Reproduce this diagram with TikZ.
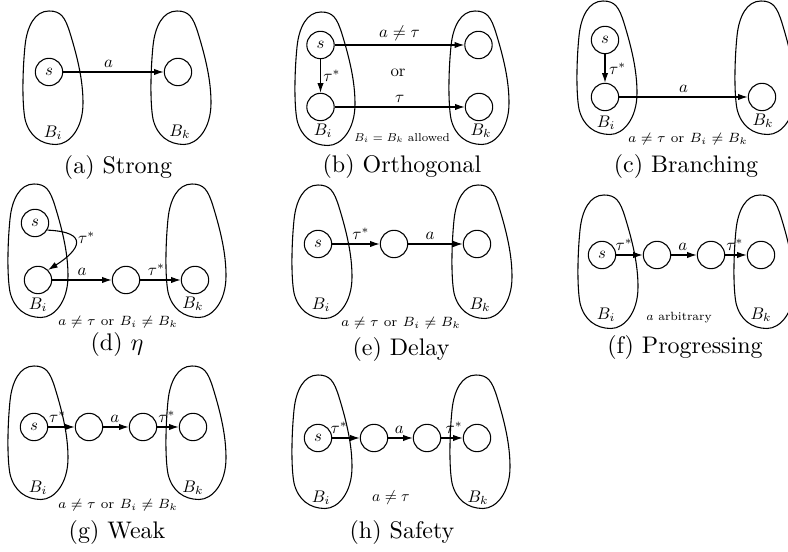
\documentclass[tikz,border=0pt]{standalone}
\usetikzlibrary{arrows.meta}
\newcommand{\smlbl}[1]{\scalebox{0.7}{#1}}
\newcommand{\notescale}[2]{\scalebox{#1}{\scriptsize #2}}
\begin{document}
\begin{tikzpicture}[x=0.416667pt, y=-0.416667pt, line width=0.45pt,
  st/.style={circle, draw, minimum size=11.4pt, inner sep=0pt},
  arr/.style={-{Latex[length=4pt,width=2.6pt]}},
  lbl/.style={inner sep=1.5pt},
  captxt/.style={inner sep=0pt, font=\normalsize},
  notetxt/.style={inner sep=0pt},
  bl/.style={inner sep=0pt},
  blob/.pic={\draw (26,0) .. controls (38,0) and (42,6) .. (47,22)
     .. controls (55,48) and (60,70) .. (60,92)
     .. controls (60,118) and (46,133.5) .. (33,133.5)
     .. controls (18,133.5) and (6,125) .. (2,108)
     .. controls (-1,92) and (-0.5,60) .. (2,35)
     .. controls (4,15) and (12,0) .. (26,0) -- cycle;}]
\useasboundingbox (0,0) rectangle (788,552);

% (a) Strong
\pic at (23,11) {blob}; \pic at (151,11) {blob};
\node[st] (a1) at (49,72) {\smlbl{$s$}};
\node[st] (a2) at (178,72) {};
\draw[arr] (a1) -- (a2) node[lbl, above, pos=0.45] {\smlbl{$a$}};
\node[bl] (aBi) at (53,133) {\smlbl{$B_i$}};
\node[bl] (aBk) at (180,132) {\smlbl{$B_k$}};
\node[captxt] (acap) at (118,168) {(a) Strong};

% (b) Orthogonal
\pic at (295,12) {blob}; \pic at (449,11) {blob};
\node[st] (b1) at (320.5,45) {\smlbl{$s$}};
\node[st] (b2) at (320.5,107) {};
\node[st] (b3) at (478.5,45) {};
\node[st] (b4) at (479,107) {};
\draw[arr] (b1) -- (b3) node[lbl, above, midway] {\smlbl{$a\neq\tau$}};
\draw[arr] (b1) -- (b2) node[right, inner sep=1pt, midway] {\smlbl{$\tau^*$}};
\draw[arr] (b2) -- (b4) node[lbl, above, midway] {\smlbl{$\tau$}};
\node[bl] (bor) at (398,73) {\smlbl{or}};
\node[bl] (bBi) at (323,131) {\smlbl{$B_i$}};
\node[bl] (bBk) at (481,131) {\smlbl{$B_k$}};
\node[notetxt] (bnote) at (402,138) {\notescale{0.68}{$B_i=B_k$ allowed}};
\node[captxt] (bcap) at (402,167) {(b) Orthogonal};

% (c) Branching
\pic at (577,1) {blob}; \pic at (735,1) {blob};
\node[st] (c1) at (605,40) {\smlbl{$s$}};
\node[st] (c2) at (605,97) {};
\node[st] (c3) at (762,97) {};
\draw[arr] (c1) -- (c2) node[lbl, right, midway] {\smlbl{$\tau^*$}};
\draw[arr] (c2) -- (c3) node[lbl, above, midway] {\smlbl{$a$}};
\node[bl] (cBi) at (606,123) {\smlbl{$B_i$}};
\node[bl] (cBk) at (763,121) {\smlbl{$B_k$}};
\node[notetxt] (cnote) at (688,139) {\notescale{0.8}{$a\neq\tau$ or $B_i\neq B_k$}};
\node[captxt] (ccap) at (686,167) {(c) Branching};

% (d) eta
\pic at (8,184) {blob}; \pic at (166,184) {blob};
\node[st] (d1) at (35,223) {\smlbl{$s$}};
\node[st] (d2) at (38,280) {};
\node[st] (d3) at (126,280) {};
\node[st] (d4) at (195,280) {};
\draw[arr] (d1.-30) .. controls (90,232) and (80,250) .. (d2.45) node[lbl, right, pos=0.35] {\smlbl{$\tau^*$}};
\draw[arr] (d2) -- (d3) node[lbl, above, midway] {\smlbl{$a$}};
\draw[arr] (d3) -- (d4) node[lbl, above, pos=0.4] {\smlbl{$\tau^*$}};
\node[bl] (dBi) at (38,305) {\smlbl{$B_i$}};
\node[bl] (dBk) at (193,304) {\smlbl{$B_k$}};
\node[notetxt] (dnote) at (118,322) {\notescale{0.8}{$a\neq\tau$ or $B_i\neq B_k$}};
\node[captxt] (dcap) at (117,345) {(d) $\eta$};

% (e) Delay
\pic at (292,185) {blob}; \pic at (452,185) {blob};
\node[st] (e1) at (318,244) {\smlbl{$s$}};
\node[st] (e2) at (394,244) {};
\node[st] (e3) at (477,244) {};
\draw[arr] (e1) -- (e2) node[lbl, above, pos=0.6] {\smlbl{$\tau^*$}};
\draw[arr] (e2) -- (e3) node[lbl, above, pos=0.4] {\smlbl{$a$}};
\node[bl] (eBi) at (321,305) {\smlbl{$B_i$}};
\node[bl] (eBk) at (480,305) {\smlbl{$B_k$}};
\node[notetxt] (enote) at (401,323) {\notescale{0.8}{$a\neq\tau$ or $B_i\neq B_k$}};
\node[captxt] (ecap) at (401,350) {(e) Delay};

% (f) Progressing
\pic at (578,195) {blob}; \pic at (734,195) {blob};
\node[st] (f1) at (602,255) {\smlbl{$s$}};
\node[st] (f2) at (657,255) {};
\node[st] (f3) at (711,255) {};
\node[st] (f4) at (761,255) {};
\draw[arr] (f1) -- (f2) node[lbl, above, pos=0.3] {\smlbl{$\tau^*$}};
\draw[arr] (f2) -- (f3) node[lbl, above, pos=0.45] {\smlbl{$a$}};
\draw[arr] (f3) -- (f4) node[lbl, above, pos=0.45] {\smlbl{$\tau^*$}};
\node[bl] (fBi) at (606,315) {\smlbl{$B_i$}};
\node[bl] (fBk) at (761,315) {\smlbl{$B_k$}};
\node[notetxt] (fnote) at (679,318) {\notescale{0.71}{$a$ arbitrary}};
\node[captxt] (fcap) at (685,348) {(f) Progressing};

% (g) Weak
\pic at (8,366) {blob}; \pic at (166,366) {blob};
\node[st] (g1) at (34,427) {\smlbl{$s$}};
\node[st] (g2) at (89,427) {};
\node[st] (g3) at (143,427) {};
\node[st] (g4) at (193,427) {};
\draw[arr] (g1) -- (g2) node[lbl, above, pos=0.35] {\smlbl{$\tau^*$}};
\draw[arr] (g2) -- (g3) node[lbl, above, pos=0.45] {\smlbl{$a$}};
\draw[arr] (g3) -- (g4) node[lbl, above, pos=0.45] {\smlbl{$\tau^*$}};
\node[bl] (gBi) at (38,488) {\smlbl{$B_i$}};
\node[bl] (gBk) at (193,488) {\smlbl{$B_k$}};
\node[notetxt] (gnote) at (118,505) {\notescale{0.8}{$a\neq\tau$ or $B_i\neq B_k$}};
\node[captxt] (gcap) at (117,533) {(g) Weak};

% (h) Safety
\pic at (292,375) {blob}; \pic at (450,375) {blob};
\node[st] (h1) at (318,438) {\smlbl{$s$}};
\node[st] (h2) at (374,438) {};
\node[st] (h3) at (427,438) {};
\node[st] (h4) at (477,438) {};
\draw[arr] (h1) -- (h2) node[lbl, above, pos=0.25] {\smlbl{$\tau^*$}};
\draw[arr] (h2) -- (h3) node[lbl, above, pos=0.45] {\smlbl{$a$}};
\draw[arr] (h3) -- (h4) node[lbl, above, pos=0.6] {\smlbl{$\tau^*$}};
\node[bl] (hBi) at (321,498) {\smlbl{$B_i$}};
\node[bl] (hBk) at (478,498) {\smlbl{$B_k$}};
\node[bl] (hnote) at (391,498) {\scalebox{0.65}{$a\neq\tau$}};
\node[captxt] (hcap) at (402,533) {(h) Safety};
\end{tikzpicture}
\end{document}
